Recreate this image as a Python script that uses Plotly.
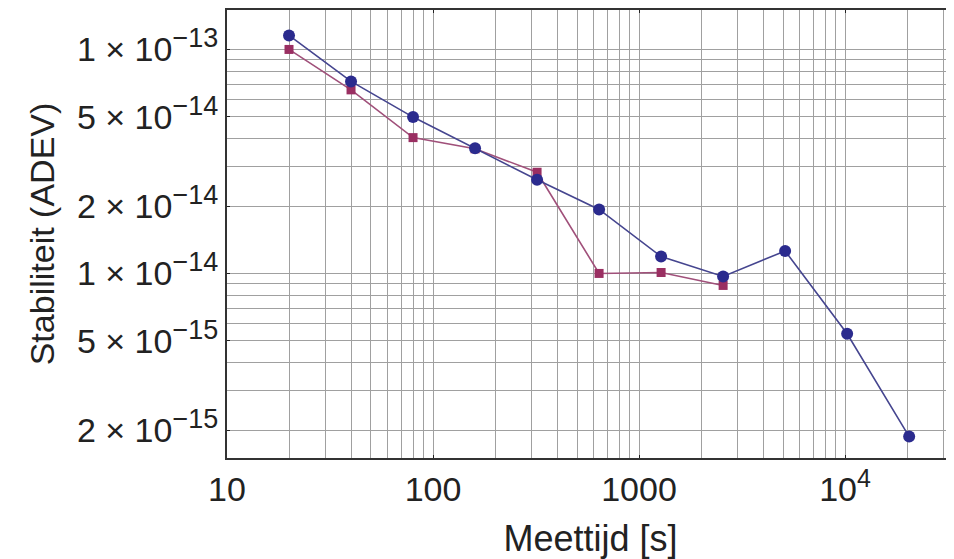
import numpy as np
import plotly.graph_objects as go

tau_blue = [20, 40, 80, 160, 320, 640, 1280, 2560, 5120, 10240, 20480]
adev_blue = [1.155e-13, 7.2e-14, 4.99e-14, 3.62e-14, 2.62e-14, 1.93e-14, 1.19e-14, 9.7e-15, 1.26e-14, 5.38e-15, 1.87e-15]

tau_red = [20, 40, 80, 160, 320, 640, 1280, 2560]
adev_red = [1.0e-13, 6.6e-14, 4.04e-14, 3.6e-14, 2.83e-14, 1.0e-14, 1.01e-14, 8.84e-15]

x_tickvals = [10, 100, 1000, 10000]
x_ticktext = ["10", "100", "1000", "10<sup><span style='font-size:25px'>4</span></sup>"]
y_tickvals = [2e-15, 5e-15, 1e-14, 2e-14, 5e-14, 1e-13]
y_mant = ["2", "5", "1", "2", "5", "1"]
y_exp = ["−15", "−15", "−14", "−14", "−14", "−13"]
y_ticktext = [m + " × 10<sup><span style='font-size:27px'>" + e + "</span></sup>"
              for m, e in zip(y_mant, y_exp)]

fig = go.Figure()
fig.add_trace(go.Scatter(
    x=tau_red, y=adev_red, mode="lines+markers",
    line=dict(color="#a0507a", width=1.6),
    marker=dict(symbol="square", size=9, color="#9a2f62"),
    showlegend=False))
fig.add_trace(go.Scatter(
    x=tau_blue, y=adev_blue, mode="lines+markers",
    line=dict(color="#45458f", width=1.6),
    marker=dict(symbol="circle", size=12, color="#2b2b8e"),
    showlegend=False))

font_family = "Liberation Sans, Arial, sans-serif"
fig.update_layout(
    width=946, height=551,
    margin=dict(l=219, r=0, t=2, b=101),
    paper_bgcolor="white", plot_bgcolor="white",
    font=dict(family=font_family, color="#222", size=33),
    xaxis=dict(
        type="log", range=[1, 4.529],
        tickvals=x_tickvals, ticktext=x_ticktext,
        ticks="inside", ticklen=3, tickcolor="#222",
        showline=True, linecolor="#333", linewidth=2, mirror="ticks",
        showgrid=True, gridcolor="#a0a0a0", gridwidth=1,
        minor=dict(dtick="D1", showgrid=True, gridcolor="#a0a0a0", gridwidth=1, ticks=""),
        tickfont=dict(size=34),
        title=dict(text="Meettijd [s]", font=dict(size=36), standoff=19),
        zeroline=False, automargin=False,
    ),
    yaxis=dict(
        type="log", range=[np.log10(1.5e-15), np.log10(1.5e-13)],
        tickvals=y_tickvals, ticktext=y_ticktext,
        ticks="inside", ticklen=3, tickcolor="#222",
        showline=True, linecolor="#333", linewidth=2, mirror=False,
        showgrid=True, gridcolor="#a0a0a0", gridwidth=1,
        minor=dict(dtick="D1", showgrid=True, gridcolor="#a0a0a0", gridwidth=1, ticks=""),
        tickfont=dict(size=34),
        title=dict(text="Stabiliteit (ADEV)", font=dict(size=34), standoff=12),
        zeroline=False, automargin=False,
    ),
)

fig.write_html("out.html")
